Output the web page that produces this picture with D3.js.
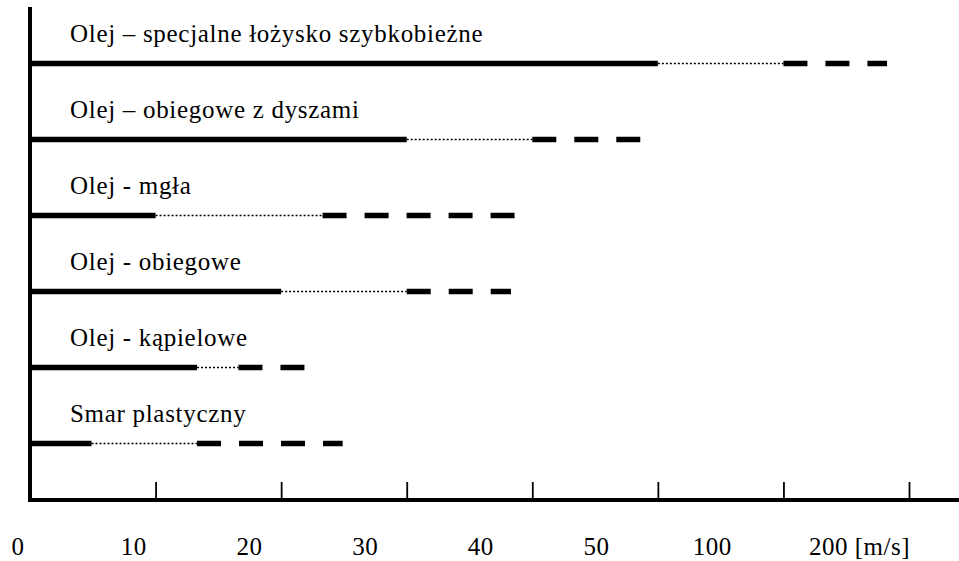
<!DOCTYPE html>
<html>
<head>
<meta charset="utf-8">
<script src="https://cdn.jsdelivr.net/npm/d3@7"></script>
<style>
  body { margin: 0; background: #fff; }
</style>
</head>
<body>
<svg id="chart" width="959" height="561"></svg>
<script>
// rodzaje smarowania (od gory)
var categories = ["Olej – specjalne łożysko szybkobieżne", "Olej – obiegowe z dyszami", "Olej - mgła",
  "Olej - obiegowe", "Olej - kąpielowe", "Smar plastyczny"];
// predkosc [m/s]: koniec linii ciaglej, koniec kropkowanej, koniec kreskowanej
var solidEnd  = [50, 30, 10, 20, 13.3, 4.9];
var dottedEnd = [100, 40, 23.3, 30, 16.6, 13.3];
var dashedEnd = [182.5, 48.6, 38.6, 38.3, 21.9, 24.9];
// os x nie jest liniowa - kazdy podzial ma te sama szerokosc
var tickValues = [0, 10, 20, 30, 40, 50, 100, 200];
var tickLabels = ["0", "10", "20", "30", "40", "50", "100", "200"];
var unit = " [m/s]";

var svg = d3.select("#chart");
var width = +svg.attr("width");

var x0 = 30, x1 = 909;
var x = d3.scaleLinear()
    .domain(tickValues)
    .range(tickValues.map(function(d, i) { return x0 + i * (x1 - x0) / (tickValues.length - 1); }));

var y = d3.scalePoint()
    .domain(categories)
    .range([63.5, 443.5]);

// etykiety pod osia sa przesuniete wzgledem kresek (jak w oryginale)
var labelX = d3.scalePoint()
    .domain(tickLabels)
    .range([18, 828]);

var axisY = 500;

// kreski osi x (do gory)
svg.append("g")
    .attr("class", "x axis")
    .attr("transform", "translate(0," + (axisY - 2) + ")")
    .call(d3.axisTop(x).tickValues(tickValues.slice(1)).tickSize(16).tickFormat(""))
    .call(function(g) { g.select(".domain").remove(); })
    .call(function(g) { g.selectAll(".tick line").attr("stroke", "#000").attr("stroke-width", 1.8); });

// linie osi
svg.append("line")
    .attr("x1", x(0) - 2).attr("x2", width)
    .attr("y1", axisY).attr("y2", axisY)
    .attr("stroke", "#000").attr("stroke-width", 4);

svg.append("line")
    .attr("x1", x(0)).attr("x2", x(0))
    .attr("y1", 7).attr("y2", axisY + 2)
    .attr("stroke", "#000").attr("stroke-width", 4);

// podpisy osi (domyslny szeryfowy font strony)
var lbl = svg.append("g").selectAll("text")
    .data(tickLabels)
    .enter().append("text")
      .attr("x", function(d) { return labelX(d); })
      .attr("y", 555)
      .attr("text-anchor", "middle")
      .style("font-size", "25px")
      .style("letter-spacing", "0.5px")
      .style("fill", "#000")
      .text(function(d) { return d; });

lbl.filter(function(d, i) { return i == tickLabels.length - 1; })
    .attr("text-anchor", "start")
    .attr("x", function(d) { return labelX(d) - 19; })
    .append("tspan").text(unit);

var rows = svg.append("g").selectAll(".row")
    .data(categories)
    .enter().append("g")
      .attr("class", "row")
      .attr("transform", function(d) { return "translate(0," + y(d) + ")"; });

rows.append("text")
    .attr("x", 70)
    .attr("y", -22)
    .style("font-size", "25px")
    .style("letter-spacing", "0.7px")
    .style("fill", "#000")
    .text(function(d) { return d; });

// ciagla
rows.append("line")
    .attr("x1", x(0))
    .attr("x2", function(d, i) { return x(solidEnd[i]); })
    .attr("stroke", "#000").attr("stroke-width", 5.5);

// kropkowana
rows.append("line")
    .attr("x1", function(d, i) { return x(solidEnd[i]); })
    .attr("x2", function(d, i) { return x(dottedEnd[i]); })
    .attr("stroke", "#000").attr("stroke-width", 1.6)
    .attr("stroke-dasharray", "2,2");

// kreskowana
rows.append("line")
    .attr("x1", function(d, i) { return x(dottedEnd[i]); })
    .attr("x2", function(d, i) { return x(dashedEnd[i]); })
    .attr("stroke", "#000").attr("stroke-width", 5.5)
    .attr("stroke-dasharray", "24,18");
</script>
</body>
</html>
